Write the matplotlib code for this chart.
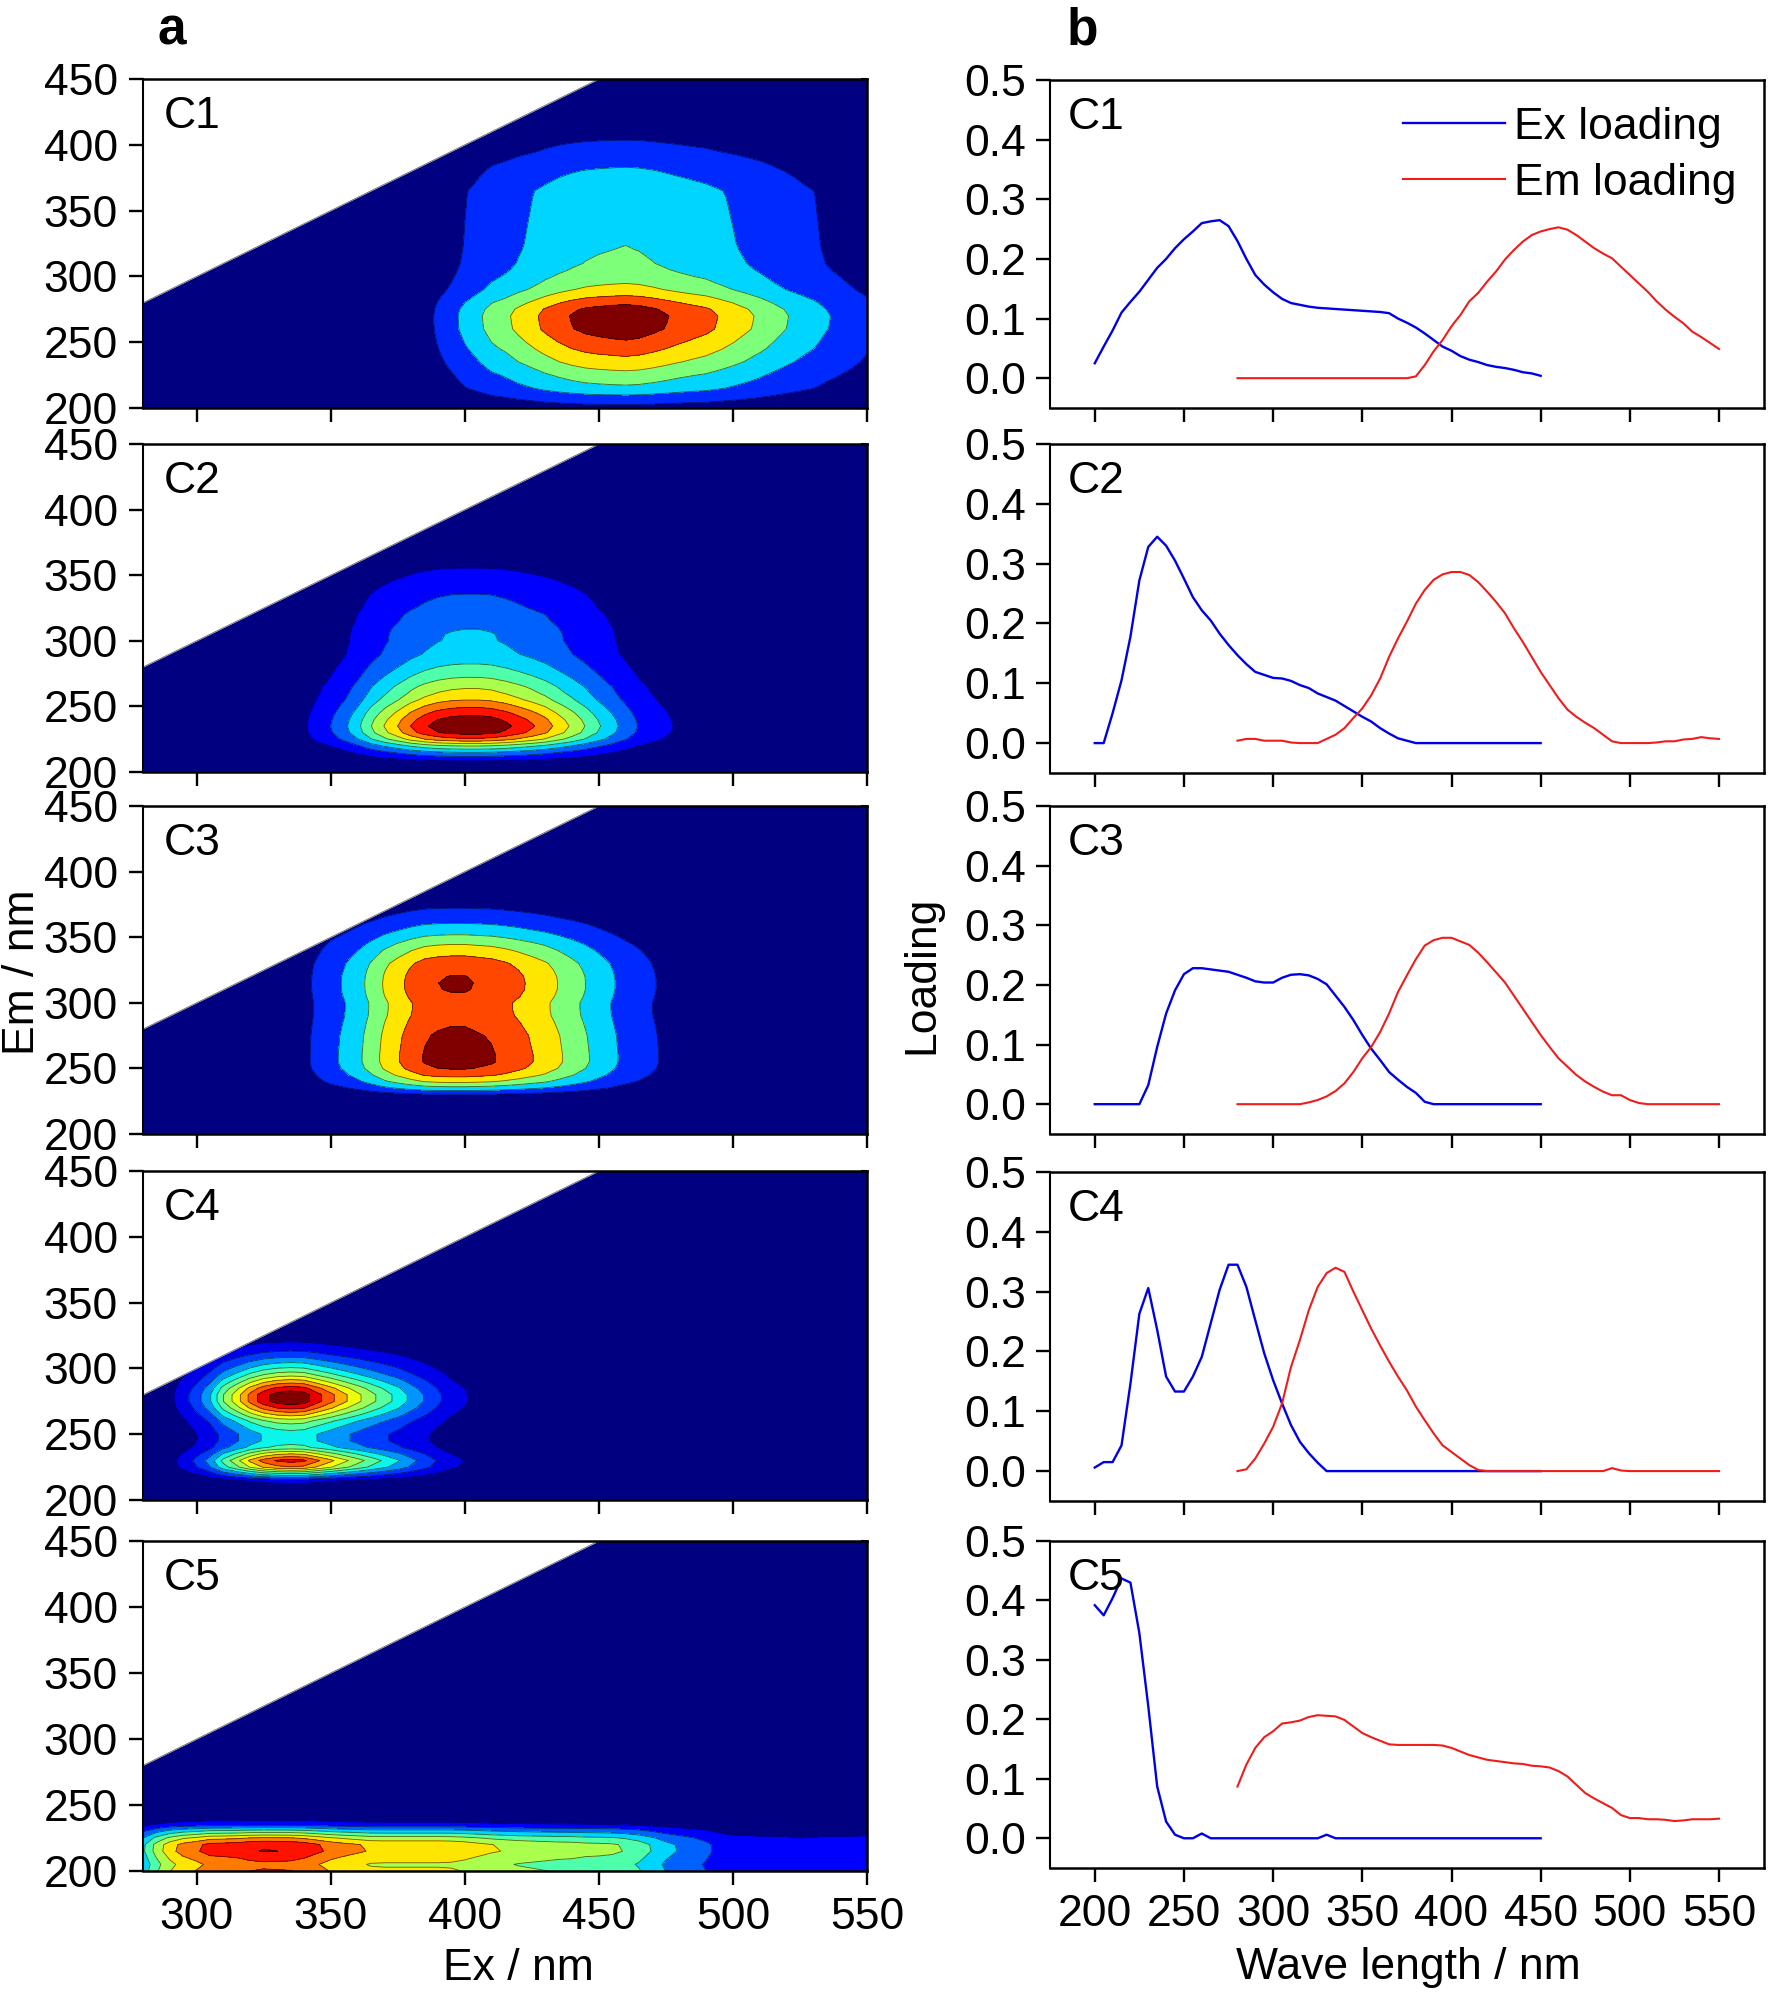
import numpy as np
import matplotlib
matplotlib.use("Agg")
import matplotlib.pyplot as plt

plt.rcParams['font.family'] = ['Liberation Sans', 'DejaVu Sans']

W = 1772
H = 1997

names = ["C1", "C2", "C3", "C4", "C5"]

# excitation wavelengths 200-450, emission 280-550, both in 5 nm steps
ex_wl = np.arange(200, 455, 5)
em_wl = np.arange(280, 555, 5)

ex1 = [.025, .053, .08, .11, .128, .145, .165, .185, .2, .218, .233, .246, .26, .263, .265, .255, .23,
       .2, .173, .157, .144, .133, .126, .123, .12, .118, .117, .116, .115, .114, .113, .112, .111, .109,
       .1, .093, .085, .075, .064, .053, .046, .037, .031, .027, .022, .019, .017, .014, .01, .008, .004]
ex2 = [0, 0, .05, .105, .178, .272, .328, .345, .33, .305, .275, .244, .222, .205, .183, .164, .147, .132,
       .119, .114, .109, .108, .104, .097, .092, .083, .077, .071, .062, .053, .044, .036, .025, .016, .008,
       .004] + [0] * 15
ex3 = [0, 0, 0, 0, 0, 0, .032, .096, .152, .191, .218, .228, .228, .226, .224, .222, .217, .212, .206, .204,
       .204, .212, .217, .218, .216, .21, .201, .182, .163, .141, .116, .093, .074, .054, .041, .029, .019,
       .004] + [0] * 13
ex4 = [.006, .015, .015, .043, .146, .263, .306, .236, .158, .133, .133, .158, .191, .247, .303, .345, .345,
       .308, .252, .197, .152, .113, .077, .049, .03, .014] + [0] * 25
ex5 = [.392, .375, .404, .437, .43, .345, .222, .087, .028, .006, 0, 0, .008] + [0] * 13 + [.006] + [0] * 24
ex_all = [ex1, ex2, ex3, ex4, ex5]

em1 = [0] * 20 + [.003, .022, .045, .064, .087, .106, .129, .143, .162, .179, .199, .215, .229, .24, .246, .25,
                  .253, .249, .24, .229, .218, .209, .201, .187, .173, .159, .145, .129, .115, .103, .092, .078,
                  .069, .059, .049]
em2 = [.004, .007, .007, .004, .004, .004, .001, 0, 0, 0, .007, .014, .025, .042, .058, .08, .108, .144, .175,
       .203, .233, .256, .273, .282, .286, .286, .281, .269, .253, .236, .217, .192, .169, .144, .119, .097,
       .075, .056, .044, .034, .025, .014, .003, 0, 0, 0, 0, .001, .003, .003, .006, .007, .01, .008, .007]
em3 = [0] * 8 + [.003, .007, .013, .022, .035, .054, .077, .096, .121, .152, .188, .216, .243, .266, .275, .279,
                 .279, .273, .267, .254, .238, .221, .204, .182, .16, .138, .116, .096, .077, .063, .049, .038,
                 .029, .021, .015, .015, .007, .002] + [0] * 9
em4 = [0, .003, .021, .046, .074, .113, .174, .219, .269, .308, .331, .34, .333, .3, .269, .238, .21, .183, .158,
       .135, .108, .085, .063, .043, .032, .021, .01, .002] + [0] * 14 + [.005, .001] + [0] * 11
em5 = [.087, .124, .152, .17, .18, .193, .195, .198, .204, .207, .206, .205, .199, .188, .177, .17, .164, .158,
       .157, .157, .157, .157, .157, .156, .152, .146, .14, .136, .132, .13, .128, .126, .125, .122, .121, .119,
       .113, .104, .09, .076, .067, .059, .051, .039, .034, .034, .032, .032, .031, .029, .03, .032, .032, .032,
       .033]
em_all = [em1, em2, em3, em4, em5]

# number of 0.01 wide contour bands in each panel
n_bands = [7, 10, 7, 12, 10]

em_ticks = [300, 350, 400, 450, 500, 550]
ex_ticks = [200, 250, 300, 350, 400, 450]
wl_ticks = [200, 250, 300, 350, 400, 450, 500, 550]
load_ticks = [0.0, 0.1, 0.2, 0.3, 0.4, 0.5]

left_rows = [(79, 408), (444, 772), (806, 1134), (1171, 1500), (1541, 1871)]
right_rows = [(80, 408), (444, 773), (806, 1134), (1172, 1501), (1541, 1868)]
FS = 32


def make_axes(fig, x0, x1, top, bottom):
    return fig.add_axes([x0 / W, 1 - bottom / H, (x1 - x0) / W, (bottom - top) / H])


def style(ax):
    for s in ['top', 'bottom', 'right']:
        ax.spines[s].set_linewidth(1.8)
    ax.spines['left'].set_linewidth(1.5)


def eem_panel(fig, i):
    ax = make_axes(fig, 143, 867, left_rows[i][0], left_rows[i][1])
    z = np.outer(ex_all[i], em_all[i])
    levels = np.arange(n_bands[i] + 1) * 0.01
    band_colors = plt.cm.jet(np.linspace(0, 1, n_bands[i]))
    ax.contourf(em_wl, ex_wl, z, levels=levels, colors=band_colors)
    ax.contour(em_wl, ex_wl, z, levels=levels[1:], colors='k', linewidths=0.6, alpha=0.6)
    ax.fill_between(em_wl, em_wl, 450, color='white', lw=0, zorder=2)
    ax.plot(em_wl, em_wl, color='#666666', lw=0.6, zorder=2)
    ax.set_xlim(280, 550)
    ax.set_ylim(200, 450)
    ax.set_xticks(em_ticks)
    ax.set_yticks(ex_ticks)
    ax.tick_params(length=10, width=1.7, labelsize=FS, pad=9, labelbottom=(i == 4))
    ax.tick_params(axis='y', pad=8)
    top = ax.secondary_xaxis('top')
    top.set_xticks(em_ticks)
    top.tick_params(direction='in', length=4, width=1.5, labeltop=False)
    top.spines['top'].set_visible(False)
    right = ax.secondary_yaxis('right')
    right.set_yticks(ex_ticks)
    right.tick_params(direction='in', length=4, width=1.5, labelright=False)
    right.spines['right'].set_visible(False)
    style(ax)
    ax.text(0.028, 0.885, names[i], transform=ax.transAxes, fontsize=FS, va='center', zorder=5)


def loading_panel(fig, i):
    ax = make_axes(fig, 1050, 1764, right_rows[i][0], right_rows[i][1])
    ax.plot(ex_wl, ex_all[i], color='#0000e6', lw=1.7, label='Ex loading')
    ax.plot(em_wl, em_all[i], color='#f01c1c', lw=1.5, label='Em loading')
    ax.set_xlim(174.9, 575.2)
    ax.set_ylim(-0.05, 0.5)
    ax.set_xticks(wl_ticks)
    ax.set_yticks(load_ticks)
    ax.set_yticklabels(["%.1f" % v for v in load_ticks])
    ax.tick_params(length=10, width=1.7, labelsize=FS, pad=7, labelbottom=(i == 4))
    ax.tick_params(axis='x', pad=9)
    style(ax)
    ax.text(0.025, 0.885, names[i], transform=ax.transAxes, fontsize=FS, va='center', zorder=5)
    if i == 0:
        ax.legend(loc='upper left', bbox_to_anchor=(0.494, 0.918), frameon=False, fontsize=FS,
                  handlelength=2.3, handletextpad=0.2, labelspacing=0.33, borderpad=0, borderaxespad=0)


fig = plt.figure(figsize=(W / 100, H / 100), dpi=100)

for i in range(5):
    eem_panel(fig, i)
    loading_panel(fig, i)

fig.text(172 / W, 1 - 31 / H, "a", fontsize=37, fontweight='bold', ha='center', va='center')
fig.text(1082 / W, 1 - 31 / H, "b", fontsize=37, fontweight='bold', ha='center', va='center')
fig.text(518 / W, 1 - 1968 / H, "Ex / nm", fontsize=FS, ha='center', va='center')
fig.text(1408 / W, 1 - 1968 / H, "Wave length / nm", fontsize=FS, ha='center', va='center')
fig.text(22 / W, 1 - 972 / H, "Em / nm", fontsize=FS, rotation=90, ha='center', va='center')
fig.text(922 / W, 1 - 975 / H, "Loading", fontsize=FS, rotation=90, ha='center', va='center')

fig.savefig("out.png", dpi=100)
